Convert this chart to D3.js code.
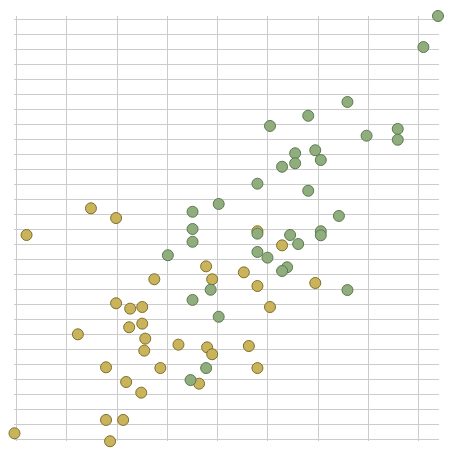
<!DOCTYPE html>
<html>
<head>
<meta charset="utf-8">
<script src="https://cdn.jsdelivr.net/npm/d3@7"></script>
<style>
  body { margin: 0; background: #fff; }
  .grid line { stroke: #cccccc; stroke-width: 1; shape-rendering: crispEdges; }
  .grid .domain { display: none; }
  .grid text { display: none; }
</style>
</head>
<body>
<script>
// gold series
var goldX = [1.49, 1.99, 0.21, 3.78, 2.75, 3.90, 1.99, 2.27, 2.51, 2.51, 2.25, 1.23, 2.57, 3.23, 2.55, 3.80, 3.90,
    1.79, 2.87, 2.19, 3.64, 2.49, 1.79, 2.13, -0.03, 1.87, 4.80, 5.29, 4.53, 4.80, 5.95, 5.05, 4.63, 4.80];
var goldY = [15.38, 14.73, 13.6, 11.51, 10.65, 10.65, 9.05, 8.69, 8.8, 7.69, 7.45, 6.98, 6.69, 6.29, 5.89, 6.11, 5.65,
    4.78, 4.73, 3.8, 3.69, 3.09, 1.27, 1.27, 0.38, -0.15, 13.85, 12.91, 11.11, 10.2, 10.4, 8.8, 6.2, 4.73];
// green series
var greenX = [8.39, 8.10, 6.59, 5.81, 5.05, 6.97, 7.59, 7.59, 5.95, 5.55, 6.06, 5.55, 5.29, 4.80, 5.81, 6.42,
    3.51, 4.03, 3.51, 3.51, 3.02, 3.87, 3.51, 4.03, 3.78, 3.47, 4.80, 5.45, 6.06, 6.06, 5.61, 4.80, 5.0, 5.39, 5.29, 6.59];
var greenY = [28.2, 26.13, 22.47, 21.55, 20.87, 20.22, 20.67, 19.95, 19.25, 19.05, 18.6, 18.38, 18.15, 17.02, 16.55, 14.87,
    15.15, 15.67, 14.0, 13.15, 12.25, 9.95, 9.27, 8.15, 4.73, 3.93, 13.69, 13.6, 13.85, 13.58, 13.0, 12.47, 12.09, 11.45, 11.2, 9.93];

var xTicks = d3.range(0, 9);
var yTicks = d3.range(0, 29);

var w = 458, h = 459;
var margin = {top: 16, left: 16, right: 19, bottom: 20};
var width = w - margin.left - margin.right,
    height = h - margin.top - margin.bottom;

var svg = d3.select("body").append("svg")
    .attr("width", w)
    .attr("height", h);

var chart = svg.append("g")
    .attr("transform", "translate(" + margin.left + "," + margin.top + ")");

var x = d3.scaleLinear().domain([0, 8.41]).range([0, width]);
var y = d3.scaleLinear().domain([0, 28.2]).range([height, 0]);

// gridlines
chart.append("g")
    .attr("class", "grid")
    .attr("transform", "translate(-2,0)")
    .call(d3.axisLeft(y).tickValues(yTicks).tickSize(-(width + 2)).tickFormat(""));

chart.append("g")
    .attr("class", "grid")
    .attr("transform", "translate(0," + (height + 2) + ")")
    .call(d3.axisBottom(x).tickValues(xTicks).tickSize(-(height + 2)).tickFormat(""));

function pts(xs, ys) {
    return xs.map(function (d, i) { return {x: d, y: ys[i]}; });
}

function plot(data, fill, stroke) {
    chart.append("g").selectAll("circle")
        .data(data)
        .enter()
        .append("circle")
        .attr("cx", function (d) { return x(d.x); })
        .attr("cy", function (d) { return y(d.y); })
        .attr("r", 5.5)
        .style("fill", fill)
        .style("stroke", stroke)
        .style("stroke-width", 1);
}

plot(pts(goldX, goldY), "#c9b35b", "#7f702c");
plot(pts(greenX, greenY), "#90ad7d", "#5d7a50");
</script>
</body>
</html>
